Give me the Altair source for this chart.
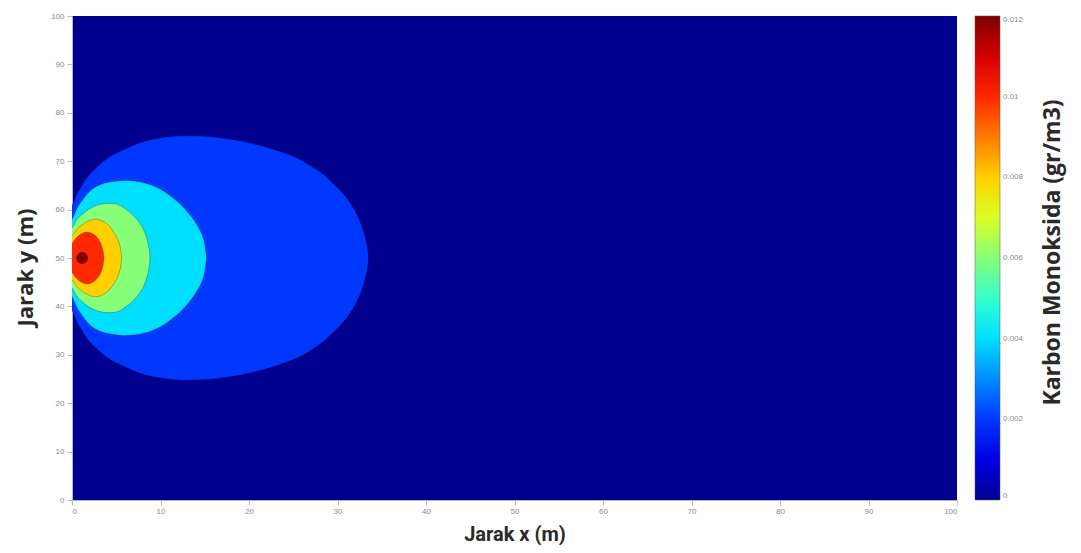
import altair as alt
import pandas as pd

# Contour levels (gr/m3) and colour bar ticks
levels = [0.002, 0.004, 0.006, 0.008, 0.010, 0.012]
cbar_ticks = [0, 0.002, 0.004, 0.006, 0.008, 0.010, 0.012]
x_ticks = [0, 10, 20, 30, 40, 50, 60, 70, 80, 90, 100]
y_ticks = [0, 10, 20, 30, 40, 50, 60, 70, 80, 90, 100]

# plume centre line (y, m)
center_y = 50

# contour boundaries: x (m) and half-width about y=50 (m)
c002_x = [-1, 0, 0.5, 1, 2, 4, 6, 8, 10, 12, 14, 16, 18, 20, 23, 25.7, 28, 29.4, 31, 32.3, 33.1, 33.5]
c002_h = [8, 10.8, 13, 14.6, 17.3, 20.6, 22.5, 24, 24.8, 25.2, 25.2, 25, 24.5, 23.8, 22.3, 20.4, 17.8, 15.6, 12.5, 8.6, 4.5, 0]

c004_x = [-1, 0, 0.5, 1, 2, 3, 4, 6, 8, 10, 12, 13.5, 14.5, 14.9, 15.1, 15.2]
c004_h = [5.5, 8, 10, 11.5, 13.8, 15, 15.6, 16, 15.6, 14.2, 11.5, 8.5, 5.6, 3.6, 1.6, 0]

c006_x = [-1, 0, 0.5, 1, 2, 3, 4.3, 5.5, 6.8, 7.8, 8.4, 8.7, 8.8]
c006_h = [4, 6.2, 7.8, 8.8, 10.2, 11, 11.3, 10.8, 9.0, 6.8, 4.4, 2.0, 0]

c008_x = [-1, 0, 0.5, 1, 1.8, 2.6, 3.5, 4.3, 5, 5.4, 5.6]
c008_h = [3, 4.5, 5.8, 6.7, 7.6, 8, 7.6, 6.4, 4.5, 2.6, 0]

c010_x = [-1, 0, 0.4, 0.9, 1.5, 2.1, 2.7, 3.1, 3.4, 3.6]
c010_h = [1.5, 3, 4, 4.8, 5.3, 5.2, 4.5, 3.5, 2.2, 0]

c012_x = [0.5, 0.8, 1.2, 1.6, 1.8]
c012_h = [0, 1.0, 1.2, 0.8, 0]

contours = [
    (0.002, c002_x, c002_h),
    (0.004, c004_x, c004_h),
    (0.006, c006_x, c006_h),
    (0.008, c008_x, c008_h),
    (0.010, c010_x, c010_h),
    (0.012, c012_x, c012_h),
]


def polygon(level, xs, hs):
    rows = []
    i = 0
    for x, h in zip(xs, hs):
        rows.append({"x": x, "y": center_y + h, "c": level, "i": i})
        i += 1
    for x, h in reversed(list(zip(xs, hs))):
        if h == 0:
            continue
        rows.append({"x": x, "y": center_y - h, "c": level, "i": i})
        i += 1
    return pd.DataFrame(rows)


# MATLAB "jet" colour map
color_scale = alt.Scale(
    domain=[0, 0.00133, 0.00438, 0.00743, 0.01048, 0.012],
    range=["#00008f", "#0000ff", "#00ffff", "#ffff00", "#ff0000", "#800000"],
    interpolate="rgb",
)

title_color = "#2a2a2a"
tick_label_color = "#8a8a8a"
axis_color = "#b4b8c8"

x_enc = alt.X(
    "x:Q",
    scale=alt.Scale(domain=[0, 100], nice=False, zero=False),
    axis=alt.Axis(
        values=x_ticks, title="Jarak x (m)", grid=False,
        labelFontSize=8, labelColor=tick_label_color, labelPadding=2,
        tickSize=5, tickColor=axis_color, domainColor=axis_color,
        titleFont="Roboto", titleFontSize=20, titleFontWeight="bold",
        titleColor=title_color, titleBaseline="alphabetic", titleY=40,
    ),
)
y_enc = alt.Y(
    "y:Q",
    scale=alt.Scale(domain=[0, 100], nice=False, zero=False),
    axis=alt.Axis(
        values=y_ticks, title="Jarak y (m)", grid=False,
        labelFontSize=8, labelColor=tick_label_color, labelPadding=3,
        tickSize=5, tickColor=axis_color, domainColor=axis_color,
        titleFont="Open Sans", titleFontSize=22, titleFontWeight="bold",
        titleColor=title_color, titleAngle=270, titleBaseline="alphabetic",
        titleX=-40, titleY=251,
    ),
)

legend = alt.Legend(
    title=None,
    orient="none", legendX=903, legendY=0, direction="vertical", padding=0,
    gradientLength=484, gradientThickness=25,
    gradientStrokeColor="#555", gradientStrokeWidth=0.5,
    values=cbar_ticks, format=".3~f",
    labelFontSize=8, labelColor=tick_label_color, labelOffset=3,
)

layers = []
for k, (lvl, xs, hs) in enumerate(contours):
    df = polygon(lvl, xs, hs)
    layers.append(
        alt.Chart(df).mark_line(
            filled=True, interpolate="cardinal-closed", clip=True,
            stroke="#000000", strokeOpacity=0.25, strokeWidth=1,
        ).encode(
            x=x_enc,
            y=y_enc,
            color=alt.Color("c:Q", scale=color_scale, legend=legend),
            order=alt.Order("i:Q"),
        )
    )

contour_layer = alt.layer(*layers)

# right-hand axis carrying the colour-bar title
cbar_df = pd.DataFrame({"v": cbar_ticks})
cbar_title = alt.Chart(cbar_df).mark_point(opacity=0).encode(
    y=alt.Y(
        "v:Q",
        scale=alt.Scale(domain=[0, 0.012], nice=False),
        axis=alt.Axis(
            orient="right", title="Karbon Monoksida (gr/m3)",
            labels=False, ticks=False, domain=False, grid=False,
            titleFont="Open Sans", titleFontSize=23, titleFontWeight="bold",
            titleColor=title_color, titleAngle=270, titleBaseline="alphabetic",
            titleX=102, titleY=236,
        ),
    ),
)

chart = alt.layer(contour_layer, cbar_title).resolve_scale(y="independent").properties(
    width=885, height=484,
    padding={"left": 64, "top": 8, "right": 116, "bottom": 45},
    autosize=alt.AutoSizeParams(type="none"),
    background="white",
).configure_view(fill="#00008f", strokeWidth=0)

chart.save("out.html", embed_options={"renderer": "svg", "actions": False})
